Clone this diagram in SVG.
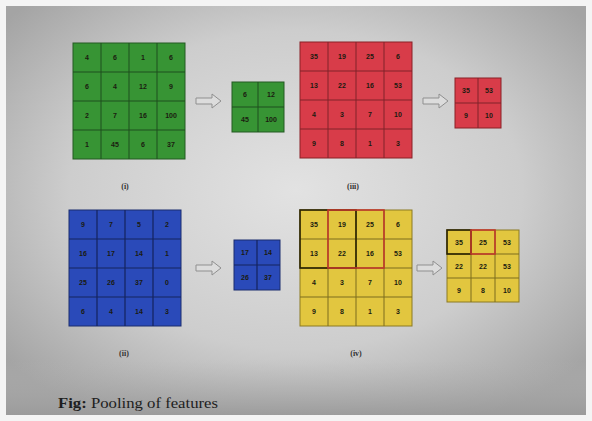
<svg xmlns="http://www.w3.org/2000/svg" width="592" height="421" viewBox="0 0 592 421">
<defs>
<radialGradient id="bg" cx="50%" cy="45%" r="65%">
<stop offset="0" stop-color="#e2e2e2"/>
<stop offset="0.6" stop-color="#cdcdcd"/>
<stop offset="1" stop-color="#a4a4a4"/>
</radialGradient>
<linearGradient id="bot" x1="0" y1="0" x2="0" y2="1">
<stop offset="0" stop-color="#b4b4b4" stop-opacity="0"/>
<stop offset="1" stop-color="#9a9a9a" stop-opacity="0.9"/>
</linearGradient>
<path id="arr" d="M0,-3 H16 V-7 L25,0 L16,7 V3 H0 Z"/>
</defs>
<style>
.g{fill:#379434;stroke:#245a22;stroke-width:1}
.r{fill:#d83c49;stroke:#8a2026;stroke-width:1}
.b{fill:#2a4ab9;stroke:#1a2c6e;stroke-width:1}
.y{fill:#e2c63f;stroke:#8c7a22;stroke-width:1}
.gl{stroke:#1f4f1f;stroke-width:1}
.rl{stroke:#80232a;stroke-width:1}
.bl{stroke:#15245e;stroke-width:1.2}
.yl{stroke:#7d6c1e;stroke-width:1}
.n{font-family:"Liberation Sans",Arial,sans-serif;font-size:7px;font-weight:bold;fill:#1b1b10;text-anchor:middle;dominant-baseline:central}
.lab{font-family:"Liberation Serif","Times New Roman",serif;font-size:8px;font-weight:bold;fill:#333;text-anchor:middle}
.a{fill:#dcdcdc;stroke:#8f8f8f;stroke-width:1}
.hk{fill:none;stroke:#2a2200;stroke-width:1.6}
.hr{fill:none;stroke:#c0392b;stroke-width:1.6}
</style>
<rect width="592" height="421" fill="#f4f4f4"/>
<rect x="6" y="6" width="580" height="409" fill="url(#bg)"/>
<rect x="6" y="360" width="580" height="55" fill="url(#bot)"/>

<g id="green-input">
<rect class="g" x="73" y="43" width="112" height="116"/>
<path class="gl" d="M101,43V159M129,43V159M157,43V159M73,72H185M73,101H185M73,130H185"/>
<text class="n" x="87" y="57">4</text><text class="n" x="115" y="57">6</text><text class="n" x="143" y="57">1</text><text class="n" x="171" y="57">6</text>
<text class="n" x="87" y="86">6</text><text class="n" x="115" y="86">4</text><text class="n" x="143" y="86">12</text><text class="n" x="171" y="86">9</text>
<text class="n" x="87" y="115">2</text><text class="n" x="115" y="115">7</text><text class="n" x="143" y="115">16</text><text class="n" x="171" y="115">100</text>
<text class="n" x="87" y="144">1</text><text class="n" x="115" y="144">45</text><text class="n" x="143" y="144">6</text><text class="n" x="171" y="144">37</text>
</g>
<g id="green-output">
<rect class="g" x="232" y="82" width="52" height="50"/>
<path class="gl" d="M258,82V132M232,107H284"/>
<text class="n" x="245" y="94">6</text><text class="n" x="271" y="94">12</text>
<text class="n" x="245" y="119">45</text><text class="n" x="271" y="119">100</text>
</g>

<g id="red-input">
<rect class="r" x="300" y="42" width="112" height="116"/>
<path class="rl" d="M328,42V158M356,42V158M384,42V158M300,71H412M300,100H412M300,129H412"/>
<text class="n" x="314" y="56">35</text><text class="n" x="342" y="56">19</text><text class="n" x="370" y="56">25</text><text class="n" x="398" y="56">6</text>
<text class="n" x="314" y="85">13</text><text class="n" x="342" y="85">22</text><text class="n" x="370" y="85">16</text><text class="n" x="398" y="85">53</text>
<text class="n" x="314" y="114">4</text><text class="n" x="342" y="114">3</text><text class="n" x="370" y="114">7</text><text class="n" x="398" y="114">10</text>
<text class="n" x="314" y="143">9</text><text class="n" x="342" y="143">8</text><text class="n" x="370" y="143">1</text><text class="n" x="398" y="143">3</text>
</g>
<g id="red-output">
<rect class="r" x="455" y="78" width="46" height="50"/>
<path class="rl" d="M478,78V128M455,103H501"/>
<text class="n" x="466" y="90">35</text><text class="n" x="489" y="90">53</text>
<text class="n" x="466" y="115">9</text><text class="n" x="489" y="115">10</text>
</g>

<g id="blue-input">
<rect class="b" x="69" y="210" width="112" height="116"/>
<path class="bl" d="M97,210V326M125,210V326M153,210V326M69,239H181M69,268H181M69,297H181"/>
<text class="n" x="83" y="224">9</text><text class="n" x="111" y="224">7</text><text class="n" x="139" y="224">5</text><text class="n" x="167" y="224">2</text>
<text class="n" x="83" y="253">16</text><text class="n" x="111" y="253">17</text><text class="n" x="139" y="253">14</text><text class="n" x="167" y="253">1</text>
<text class="n" x="83" y="282">25</text><text class="n" x="111" y="282">26</text><text class="n" x="139" y="282">37</text><text class="n" x="167" y="282">0</text>
<text class="n" x="83" y="311">6</text><text class="n" x="111" y="311">4</text><text class="n" x="139" y="311">14</text><text class="n" x="167" y="311">3</text>
</g>
<g id="blue-output">
<rect class="b" x="234" y="240" width="46" height="50"/>
<path class="bl" d="M257,240V290M234,265H280"/>
<text class="n" x="245" y="252">17</text><text class="n" x="268" y="252">14</text>
<text class="n" x="245" y="277">26</text><text class="n" x="268" y="277">37</text>
</g>

<g id="yellow-input">
<rect class="y" x="300" y="210" width="112" height="116"/>
<path class="yl" d="M328,210V326M356,210V326M384,210V326M300,239H412M300,268H412M300,297H412"/>
<rect class="hk" x="300" y="210" width="56" height="58"/>
<rect class="hr" x="328" y="210" width="56" height="58"/>
<text class="n" x="314" y="224">35</text><text class="n" x="342" y="224">19</text><text class="n" x="370" y="224">25</text><text class="n" x="398" y="224">6</text>
<text class="n" x="314" y="253">13</text><text class="n" x="342" y="253">22</text><text class="n" x="370" y="253">16</text><text class="n" x="398" y="253">53</text>
<text class="n" x="314" y="282">4</text><text class="n" x="342" y="282">3</text><text class="n" x="370" y="282">7</text><text class="n" x="398" y="282">10</text>
<text class="n" x="314" y="311">9</text><text class="n" x="342" y="311">8</text><text class="n" x="370" y="311">1</text><text class="n" x="398" y="311">3</text>
</g>
<g id="yellow-output">
<rect class="y" x="447" y="230" width="72" height="72"/>
<path class="yl" d="M471,230V302M495,230V302M447,254H519M447,278H519"/>
<rect class="hk" x="447" y="230" width="24" height="24"/>
<rect class="hr" x="471" y="230" width="24" height="24"/>
<text class="n" x="459" y="242">35</text><text class="n" x="483" y="242">25</text><text class="n" x="507" y="242">53</text>
<text class="n" x="459" y="266">22</text><text class="n" x="483" y="266">22</text><text class="n" x="507" y="266">53</text>
<text class="n" x="459" y="290">9</text><text class="n" x="483" y="290">8</text><text class="n" x="507" y="290">10</text>
</g>

<g id="connectors">
<use href="#arr" class="a" x="196" y="101"/>
<use href="#arr" class="a" x="423" y="101"/>
<use href="#arr" class="a" x="196" y="268"/>
<use href="#arr" class="a" x="417" y="268"/>
</g>

<g id="labels">
<text class="lab" x="125" y="189">(i)</text>
<text class="lab" x="353" y="189">(iii)</text>
<text class="lab" x="124" y="356">(ii)</text>
<text class="lab" x="356" y="356">(iv)</text>
</g>
<text x="58" y="408" font-family="'Liberation Serif','Times New Roman',serif" font-size="14" fill="#1e1e1e" textLength="160" lengthAdjust="spacingAndGlyphs"><tspan font-weight="bold">Fig:</tspan> Pooling of features</text>
</svg>
